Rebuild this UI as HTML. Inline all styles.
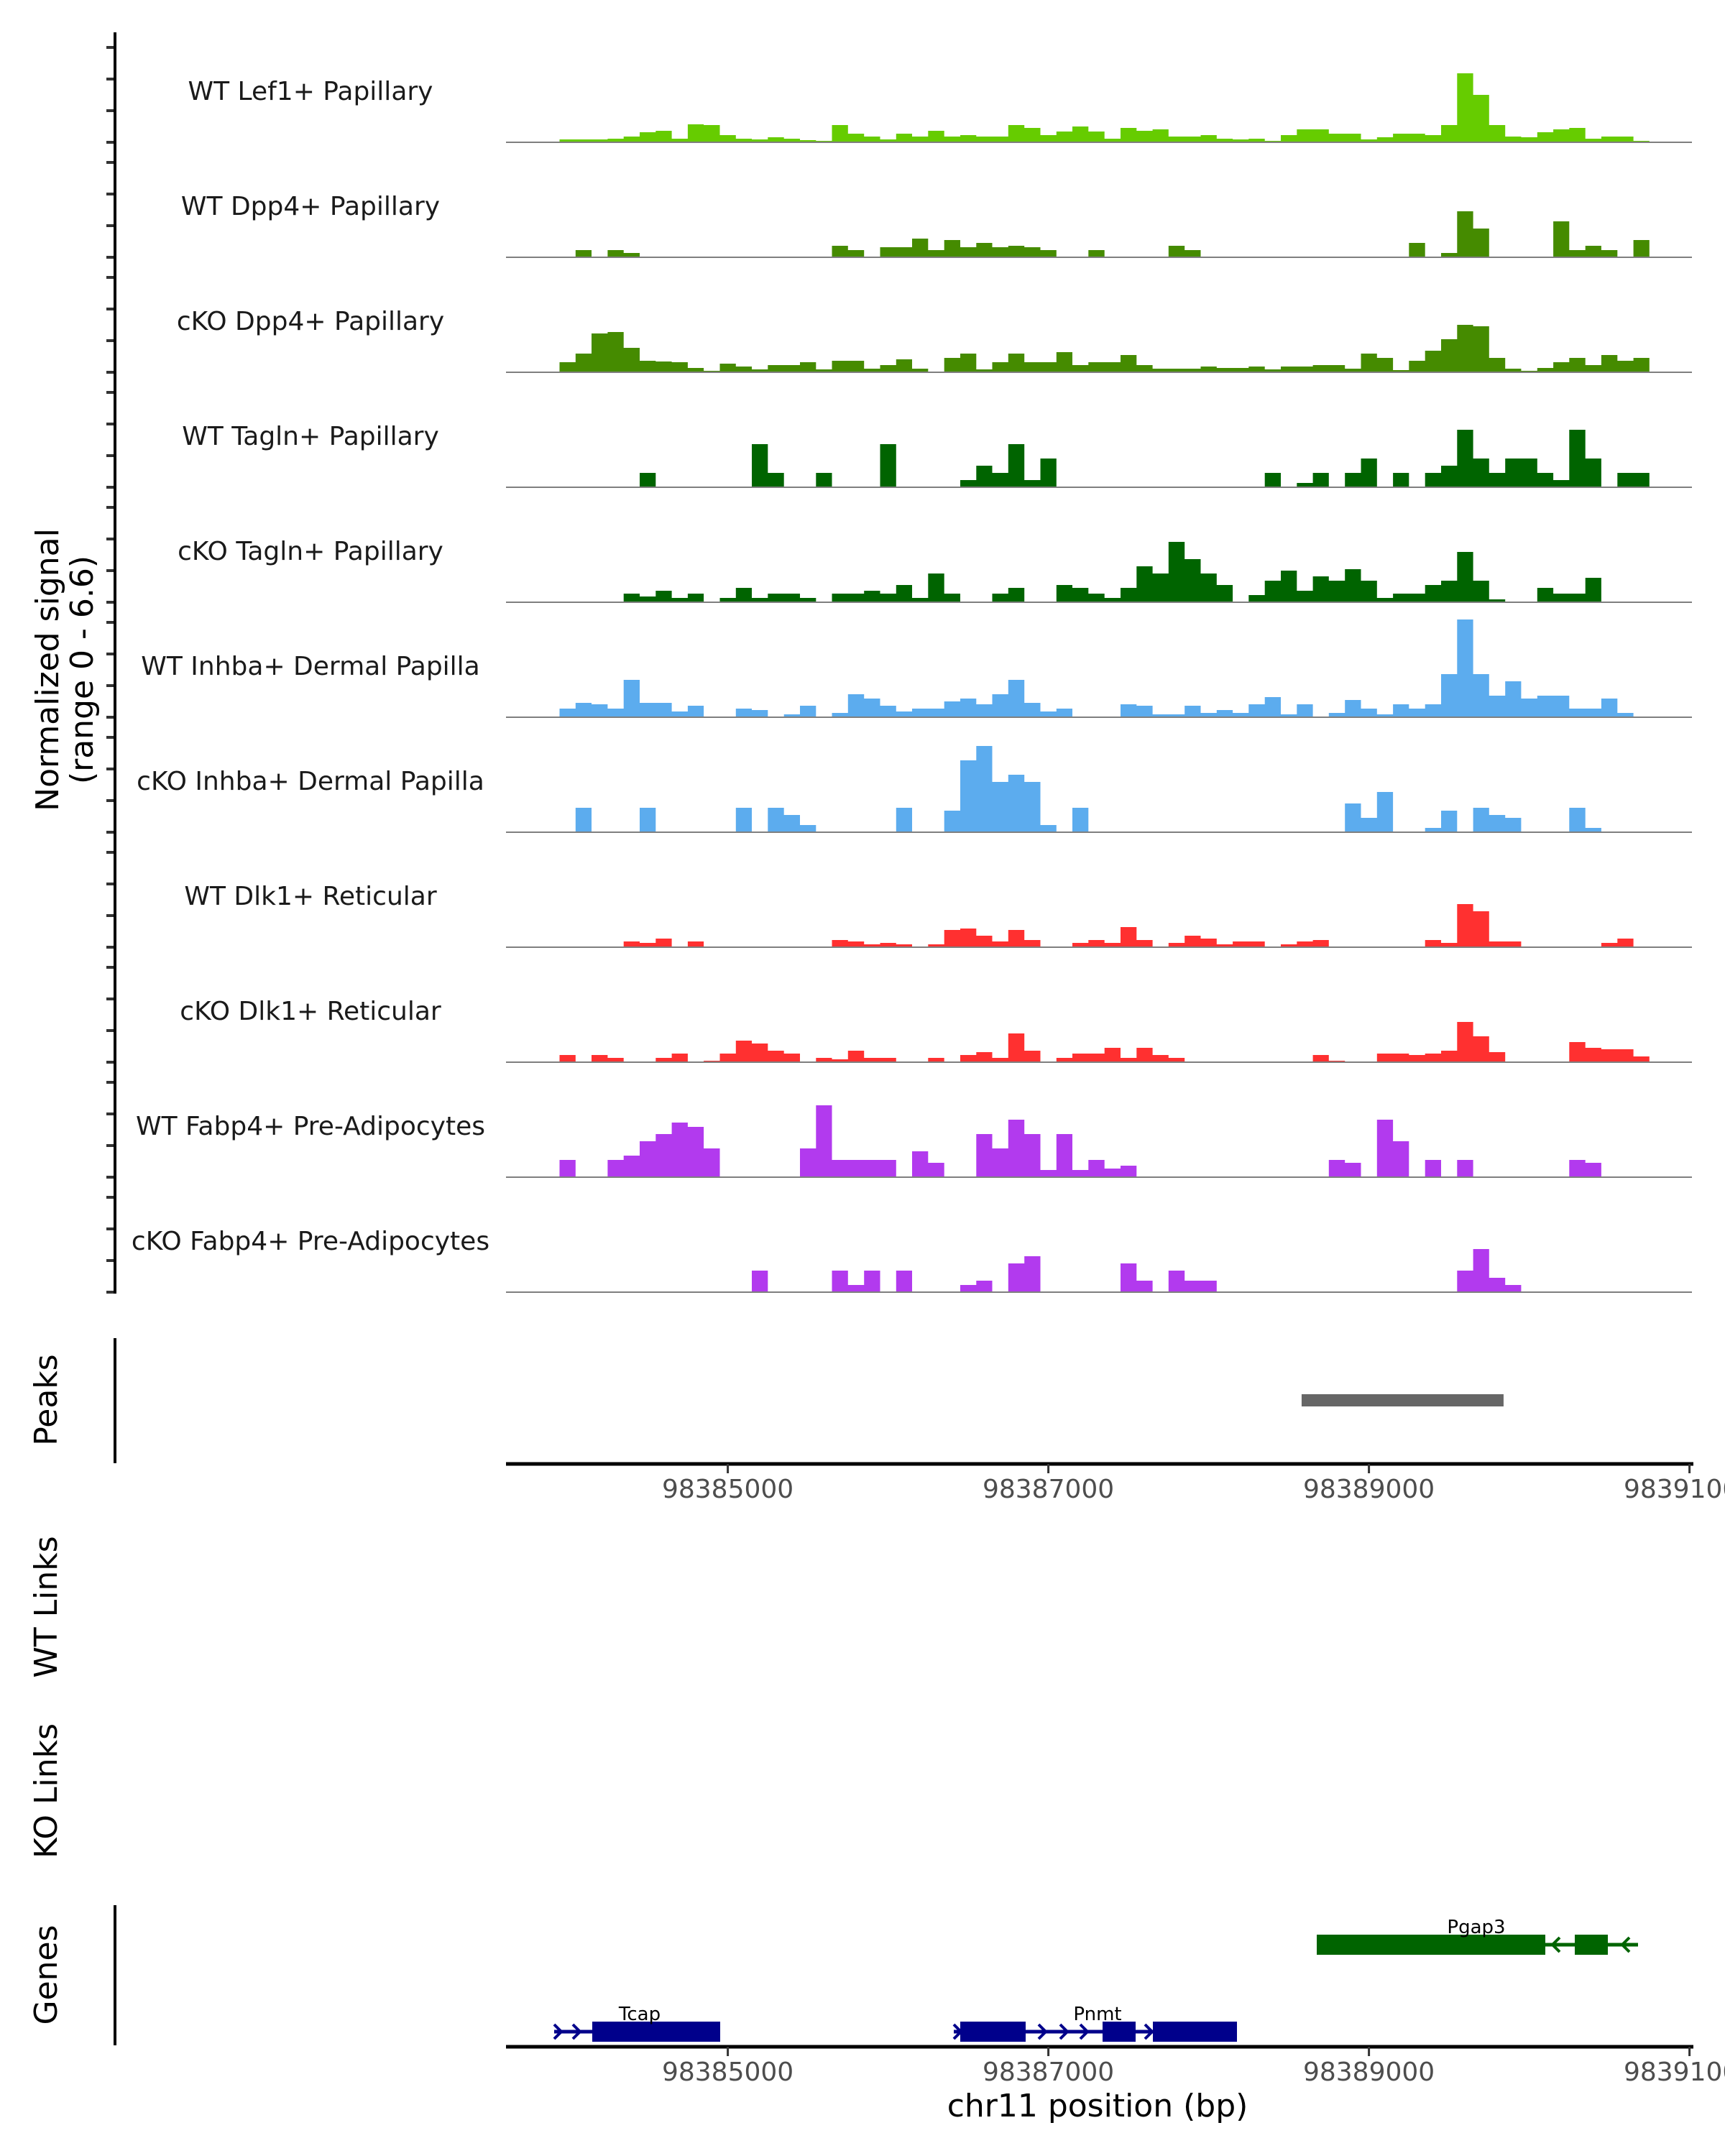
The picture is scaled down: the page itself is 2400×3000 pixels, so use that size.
<!DOCTYPE html>
<html><head><meta charset="utf-8">
<style>
html,body{margin:0;padding:0;background:#fff;}
svg{display:block;font-family:"DejaVu Sans","Liberation Sans",sans-serif;}
</style></head>
<body>
<svg id="chart" width="2400" height="3000" viewBox="0 0 2400 3000" xmlns="http://www.w3.org/2000/svg">
<g id="tracks"></g>
<g id="axes"></g>
</svg>
<script>
const trackNames = ["WT Lef1+ Papillary","WT Dpp4+ Papillary","cKO Dpp4+ Papillary","WT Tagln+ Papillary","cKO Tagln+ Papillary","WT Inhba+ Dermal Papilla","cKO Inhba+ Dermal Papilla","WT Dlk1+ Reticular","cKO Dlk1+ Reticular","WT Fabp4+ Pre-Adipocytes","cKO Fabp4+ Pre-Adipocytes"];
const trackColors = ["#66CC00","#458B00","#458B00","#006400","#006400","#5CACEE","#5CACEE","#FF3030","#FF3030","#B23AEE","#B23AEE"];
const binStart = 98383950;
const binSize = 100;
const lef1WT = [0.2,0.2,0.2,0.25,0.4,0.7,0.8,0.25,1.25,1.2,0.5,0.25,0.2,0.35,0.25,0.15,0.1,1.2,0.6,0.4,0.2,0.6,0.4,0.8,0.4,0.5,0.4,0.4,1.2,1.0,0.5,0.75,1.1,0.75,0.25,1.0,0.8,0.9,0.4,0.4,0.5,0.25,0.2,0.25,0.1,0.5,0.9,0.9,0.6,0.6,0.2,0.35,0.6,0.6,0.5,1.2,4.8,3.3,1.2,0.4,0.35,0.7,0.9,1.0,0.25,0.4,0.4,0.1];
const dpp4WT = [0,0.5,0,0.5,0.3,0,0,0,0,0,0,0,0,0,0,0,0,0.8,0.5,0,0.7,0.7,1.3,0.5,1.2,0.7,1.0,0.7,0.8,0.7,0.5,0,0,0.5,0,0,0,0,0.8,0.5,0,0,0,0,0,0,0,0,0,0,0,0,0,1.0,0,0.3,3.2,2.0,0,0,0,0,2.5,0.5,0.8,0.5,0,1.2];
const dpp4KO = [0.7,1.3,2.7,2.8,1.7,0.8,0.75,0.7,0.3,0.1,0.6,0.4,0.2,0.5,0.5,0.7,0.2,0.8,0.8,0.25,0.5,0.9,0.25,0,1.0,1.3,0.2,0.7,1.3,0.7,0.7,1.4,0.5,0.7,0.7,1.2,0.5,0.25,0.25,0.25,0.4,0.3,0.3,0.4,0.2,0.4,0.4,0.5,0.5,0.25,1.3,1.0,0.15,0.8,1.5,2.3,3.3,3.2,1.0,0.25,0.1,0.3,0.7,1.0,0.5,1.2,0.8,1.0];
const taglnWT = [0,0,0,0,0,1.0,0,0,0,0,0,0,3.0,1.0,0,0,1.0,0,0,0,3.0,0,0,0,0,0.5,1.5,1.0,3.0,0.5,2.0,0,0,0,0,0,0,0,0,0,0,0,0,0,1.0,0,0.3,1.0,0,1.0,2.0,0,1.0,0,1.0,1.5,4.0,2.0,1.0,2.0,2.0,1.0,0.5,4.0,2.0,0,1.0,1.0];
const taglnKO = [0,0,0,0,0.6,0.4,0.8,0.3,0.6,0,0.3,1.0,0.3,0.6,0.6,0.3,0,0.6,0.6,0.8,0.6,1.2,0.3,2.0,0.6,0,0,0.6,1.0,0,0,1.2,1.0,0.6,0.3,1.0,2.5,2.0,4.2,3.0,2.0,1.2,0,0.5,1.5,2.2,0.8,1.8,1.5,2.3,1.5,0.3,0.6,0.6,1.2,1.5,3.5,1.5,0.2,0,0,1.0,0.6,0.6,1.7,0,0,0];
const inhbaWT = [0.6,1.0,0.9,0.6,2.6,1.0,1.0,0.4,0.8,0,0,0.6,0.5,0,0.2,0.8,0,0.3,1.6,1.3,0.8,0.4,0.6,0.6,1.1,1.3,0.9,1.6,2.6,1.0,0.4,0.6,0,0,0,0.9,0.8,0.2,0.2,0.8,0.3,0.5,0.3,0.9,1.4,0.2,0.9,0,0.3,1.2,0.6,0.2,0.9,0.6,0.9,3.0,6.8,3.0,1.5,2.5,1.3,1.5,1.5,0.6,0.6,1.3,0.3,0];
const inhbaKO = [0,1.7,0,0,0,1.7,0,0,0,0,0,1.7,0,1.7,1.2,0.5,0,0,0,0,0,1.7,0,0,1.5,5.0,6.0,3.5,4.0,3.5,0.5,0,1.7,0,0,0,0,0,0,0,0,0,0,0,0,0,0,0,0,2.0,1.0,2.8,0,0,0.3,1.5,0,1.7,1.2,1.0,0,0,0,1.7,0.3,0,0,0];
const dlk1WT = [0,0,0,0,0.4,0.3,0.6,0,0.4,0,0,0,0,0,0,0,0,0.5,0.4,0.2,0.3,0.2,0,0.2,1.2,1.3,0.8,0.4,1.2,0.5,0,0,0.3,0.5,0.3,1.4,0.5,0,0.3,0.8,0.6,0.2,0.4,0.4,0,0.2,0.4,0.5,0,0,0,0,0,0,0.5,0.3,3.0,2.5,0.4,0.4,0,0,0,0,0,0.3,0.6,0];
const dlk1KO = [0.5,0,0.5,0.3,0,0,0.3,0.6,0,0.1,0.6,1.5,1.3,0.8,0.6,0,0.3,0.2,0.8,0.3,0.3,0,0,0.3,0,0.5,0.7,0.3,2.0,0.8,0,0.3,0.6,0.6,1.0,0.3,1.0,0.5,0.3,0,0,0,0,0,0,0,0,0.5,0.1,0,0,0.6,0.6,0.5,0.6,0.8,2.8,1.8,0.7,0,0,0,0,1.4,1.0,0.9,0.9,0.4];
const fabp4WT = [1.2,0,0,1.2,1.5,2.5,3.0,3.8,3.5,2.0,0,0,0,0,0,2.0,5.0,1.2,1.2,1.2,1.2,0,1.8,1.0,0,0,3.0,2.0,4.0,3.0,0.5,3.0,0.5,1.2,0.6,0.8,0,0,0,0,0,0,0,0,0,0,0,0,1.2,1.0,0,4.0,2.5,0,1.2,0,1.2,0,0,0,0,0,0,1.2,1.0,0,0,0];
const fabp4KO = [0,0,0,0,0,0,0,0,0,0,0,0,1.5,0,0,0,0,1.5,0.5,1.5,0,1.5,0,0,0,0.5,0.8,0,2.0,2.5,0,0,0,0,0,2.0,0.8,0,1.5,0.8,0.8,0,0,0,0,0,0,0,0,0,0,0,0,0,0,0,1.5,3.0,1.0,0.5,0,0,0,0,0,0,0,0];
const seriesValues = [lef1WT,dpp4WT,dpp4KO,taglnWT,taglnKO,inhbaWT,inhbaKO,dlk1WT,dlk1KO,fabp4WT,fabp4KO];
const xTicks = [98385000,98387000,98389000,98391000];
const xTickLabels = ["98385000","98387000","98389000","98391000"];
const peakRegions = [[98388580,98389840]];
const yRangeMax = 6.6;

const NS = "http://www.w3.org/2000/svg";
const X0 = 704, X1 = 2354;
function xScale(bp){ return 1012.6 + (bp - 98385000) * 0.2230; }
const TRACK_H = 132, TRACK_GAP = 160, FIRST_BASE = 198;
function baseY(i){ return FIRST_BASE + i * TRACK_GAP; }
function yScale(i, v){ return baseY(i) - v / yRangeMax * TRACK_H; }
function el(tag, attrs, parent){ const e = document.createElementNS(NS, tag); for (const k in attrs) e.setAttribute(k, attrs[k]); parent.appendChild(e); return e; }

const tracks = document.getElementById('tracks');
const axes = document.getElementById('axes');

seriesValues.forEach((vals, i) => {
  const g = el('g', {}, tracks);
  
  
  let d = 'M' + xScale(binStart) + ',' + baseY(i);
  vals.forEach((v, k) => {
    const xa = xScale(binStart + k * binSize), xb = xScale(binStart + (k + 1) * binSize);
    const y = yScale(i, v);
    d += ' L' + xa.toFixed(1) + ',' + y.toFixed(1) + ' L' + xb.toFixed(1) + ',' + y.toFixed(1);
  });
  d += ' L' + xScale(binStart + vals.length * binSize).toFixed(1) + ',' + baseY(i) + ' Z';
  const area = el('path', {d: d, fill: trackColors[i], stroke: 'none'}, g);
  
  
  const bl = el('line', {x1: X0, x2: X1, y1: baseY(i), y2: baseY(i), stroke: '#7f7f7f', 'stroke-width': 2}, g);
  
  
  const lab = el('text', {x: 432, y: baseY(i) - 59, 'text-anchor': 'middle', 'font-size': 36, fill: '#1a1a1a'}, g);
  lab.textContent = trackNames[i];
  
  
  for (let j = 0; j < 4; j++) {
    const ty = baseY(i) - j * TRACK_H / 3;
    const t = el('line', {x1: 148, x2: 160, y1: ty, y2: ty, stroke: '#333', 'stroke-width': 4}, axes);
    
    
  }
});

const ya = el('line', {x1: 160, x2: 160, y1: 45, y2: 1800, stroke: '#000', 'stroke-width': 4}, axes);



function vtext(x, y, s, name, size){
  const t = el('text', {x: x, y: y, 'text-anchor': 'middle', 'font-size': size || 44, fill: '#000', transform: 'rotate(-90 ' + x + ' ' + y + ')'}, axes);
  t.textContent = s;
  
  
}
vtext(81, 932, 'Normalized signal', 'y-axis-title');
vtext(129, 932, '(range 0 - 6.6)', 'y-axis-range');
vtext(79, 1948, 'Peaks', 'peaks-title');
vtext(79, 2236, 'WT Links', 'wt-links-title');
vtext(79, 2492, 'KO Links', 'ko-links-title');
vtext(79, 2748, 'Genes', 'genes-title');

const pa = el('line', {x1: 160, x2: 160, y1: 1862, y2: 2036, stroke: '#000', 'stroke-width': 4}, axes);


peakRegions.forEach(p => {
  const r = el('rect', {x: xScale(p[0]), y: 1940, width: xScale(p[1]) - xScale(p[0]), height: 17, fill: '#666'}, axes);
  
  
});

function xAxis(y, name){
  const a = el('line', {x1: X0, x2: X1 + 2, y1: y, y2: y, stroke: '#000', 'stroke-width': 5}, axes);
  
  
  xTicks.forEach((t, k) => {
    const tx = xScale(t);
    const tl = el('line', {x1: tx, x2: tx, y1: y, y2: y + 13, stroke: '#333', 'stroke-width': 3}, axes);
    
    
    const lb = el('text', {x: tx, y: y + 47, 'text-anchor': 'middle', 'font-size': 36, fill: '#4d4d4d'}, axes);
    lb.textContent = xTickLabels[k];
    
    
  });
}
xAxis(2037, 'peaks-x-axis');

const ga = el('line', {x1: 160, x2: 160, y1: 2651, y2: 2846, stroke: '#000', 'stroke-width': 4}, axes);


xAxis(2848, 'genes-x-axis');
const xt = el('text', {x: 1527, y: 2945, 'text-anchor': 'middle', 'font-size': 44, fill: '#000'}, axes);
xt.textContent = 'chr11 position (bp)';



function gene(name, color, lineX, y, boxes, arrows, dir, labelX){
  const g = el('g', {}, axes);
  
  
  el('line', {x1: lineX[0], x2: lineX[1], y1: y, y2: y, stroke: color, 'stroke-width': 5}, g);
  boxes.forEach(b => el('rect', {x: b[0], y: y - 14, width: b[1] - b[0], height: 28, fill: color}, g));
  arrows.forEach(ax => {
    const s = dir > 0 ? 'M' + (ax - 5) + ',' + (y - 10) + ' L' + (ax + 5) + ',' + y + ' L' + (ax - 5) + ',' + (y + 10)
                      : 'M' + (ax + 5) + ',' + (y - 10) + ' L' + (ax - 5) + ',' + y + ' L' + (ax + 5) + ',' + (y + 10);
    el('path', {d: s, stroke: color, 'stroke-width': 4, fill: 'none'}, g);
  });
  const t = el('text', {x: labelX, y: y - 16, 'text-anchor': 'middle', 'font-size': 26, fill: '#000'}, g);
  t.textContent = name;
}
gene('Pgap3', '#006400', [1832, 2279], 2706, [[1832, 2150], [2191, 2237]], [2165, 2262], -1, 2054);
gene('Tcap', '#00008B', [771, 1002], 2827, [[824, 1002]], [776, 802], 1, 890);
gene('Pnmt', '#00008B', [1327, 1721], 2827, [[1336, 1427], [1534, 1580], [1604, 1721]], [1332, 1450, 1480, 1508, 1598], 1, 1527);
</script>
</body></html>
